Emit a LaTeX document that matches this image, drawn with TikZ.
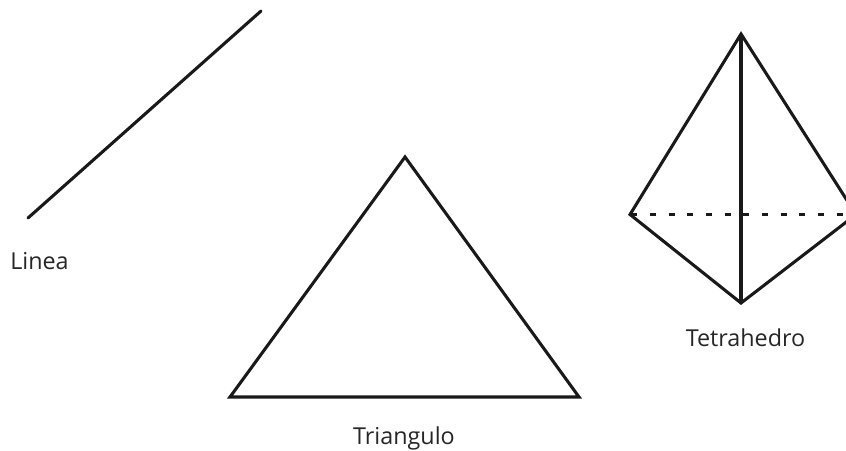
\documentclass[tikz,border=0pt]{standalone}
\usepackage{fontspec}
\setmainfont{Open Sans}
\tikzset{edge/.style={line width=2.3pt, black!90}, caption/.style={font=\fontsize{17.5pt}{21pt}\selectfont, text=black!85, inner sep=0pt}}
\begin{document}
\begin{tikzpicture}[x=1pt,y=-1pt,scale=0.75]
  \useasboundingbox (0,0) rectangle (846,450);

  % Line
  \coordinate (lineA) at (28,218);
  \coordinate (lineB) at (261,11);
  \draw[edge, line cap=round] (lineA) -- (lineB);
  \node[caption] (lineLabel) at (39.5,261) {Linea};

  % Triangle
  \coordinate (triTop) at (405,157);
  \coordinate (triLeft) at (230,397);
  \coordinate (triRight) at (579,397);
  \draw[edge] (triTop) -- (triRight) -- (triLeft) -- cycle;
  \node[caption] (triLabel) at (404,438.5) {Triangulo};

  % Tetrahedron
  \coordinate (tetTop) at (741,34);
  \coordinate (tetLeft) at (630,214.5);
  \coordinate (tetRight) at (856,214.5);
  \coordinate (tetBottom) at (741,303);
  \draw[edge] (tetLeft) -- (tetTop) -- (tetRight) -- (tetBottom) -- cycle;
  \draw[edge] (tetTop) -- (tetBottom);
  \draw[edge, dash pattern=on 4.5pt off 9.5pt, dash phase=13pt] (tetLeft) -- (tetRight);
  \node[caption] (tetLabel) at (745.5,338) {Tetrahedro};
\end{tikzpicture}
\end{document}
